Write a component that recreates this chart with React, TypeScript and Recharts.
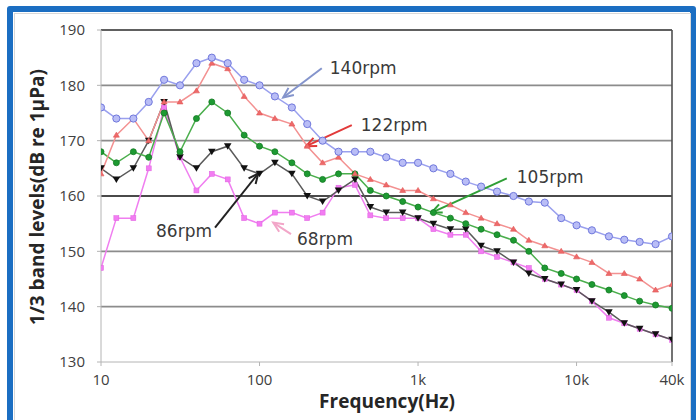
import React from "react";
import {
  LineChart,
  Line,
  XAxis,
  YAxis,
  CartesianGrid,
  ReferenceLine,
} from "recharts";

// 1/3 octave band centre frequencies (Hz)
const freqs = [
  10, 12.5, 16, 20, 25, 31.5, 40, 50, 63, 80, 100, 125, 160, 200, 250, 315,
  400, 500, 630, 800, 1000, 1250, 1600, 2000, 2500, 3150, 4000, 5000, 6300,
  8000, 10000, 12500, 16000, 20000, 25000, 31500, 40000,
];

// band levels, dB re 1uPa
const rpm140 = [
  176, 174, 174, 177, 181, 180, 184, 185, 184, 181, 180, 178, 176, 173, 170,
  168, 168, 168, 167, 166, 166, 165, 164, 162.6, 161.7, 160.8, 160, 159, 158.8,
  156, 154.7, 153.8, 152.7, 152.1, 151.7, 151.3, 152.7,
];
const rpm122 = [
  164, 171, 174, 170, 177, 177, 179, 184, 183, 178, 175, 174, 173, 169, 166,
  167, 164, 163, 162, 161, 161, 159.5, 158.4, 157, 156, 155, 154, 152, 151,
  150, 149, 148, 146, 146, 145, 143, 144,
];
const rpm105 = [
  168, 166, 168, 167, 175, 168, 174, 177, 175, 171, 169, 168, 166, 164, 163,
  164, 164, 161, 160, 159, 158, 157, 156, 155, 154, 153, 152, 150, 147, 146,
  145, 144, 143, 142, 141, 140.3, 139.7,
];
const rpm86 = [
  165, 163, 165, 170, 177, 167, 165, 168, 169, 165, 164, 166, 164, 160, 159,
  161, 163, 158, 157, 157, 156, 155, 154, 154, 151, 150, 148, 146, 145, 144,
  143, 141, 139, 137, 136, 135, 134,
];
const rpm68 = [
  147, 156, 156, 165, 176, 167, 161, 164, 163, 156, 155, 157, 157, 156, 157,
  161.5, 162, 156.5, 156, 156, 156, 154, 153, 153, 150, 149, 148, 147, 145,
  144, 143, 141, 138, 137, 136, 135, 134,
];

const xTicks = [10, 100, 1000, 10000, 40000];
const yTicks = [130, 140, 150, 160, 170, 180, 190];

// callouts: [freq, level] of the tail and of the arrow tip
const callouts = [
  { label: "140rpm", from: [247, 183.1], to: [141, 177.8] },
  { label: "122rpm", from: [382, 172.8], to: [197, 169.0] },
  { label: "105rpm", from: [3630, 163.2], to: [1220, 157.0] },
  { label: "86rpm", from: [52.4, 154.3], to: [98.3, 164.1] },
  { label: "68rpm", from: [158, 153.1], to: [122, 155.2] },
];

const rows = freqs.map((f, i) => ({
  freq: f,
  rpm140: rpm140[i],
  rpm122: rpm122[i],
  rpm105: rpm105[i],
  rpm86: rpm86[i],
  rpm68: rpm68[i],
}));

type Marker = "circle" | "tri" | "dot" | "invtri" | "square";

const seriesStyle: {
  key: string;
  stroke: string;
  marker: Marker;
  fill: string;
  edge: string;
}[] = [
  { key: "rpm68", stroke: "#f07ef0", marker: "square", fill: "#f27cf2", edge: "#e060e0" },
  { key: "rpm86", stroke: "#5a5a5a", marker: "invtri", fill: "#111", edge: "#111" },
  { key: "rpm105", stroke: "#4aae4c", marker: "dot", fill: "#1d9a32", edge: "#137a22" },
  { key: "rpm122", stroke: "#f39191", marker: "tri", fill: "#ee6a6a", edge: "#e05555" },
  { key: "rpm140", stroke: "#9aa0ee", marker: "circle", fill: "#b9bdf6", edge: "#7078dc" },
];

const calloutStyle: Record<
  string,
  { color: string; dx: number; dy: number; anchor: "start" | "end" }
> = {
  "140rpm": { color: "#8494cc", dx: 8, dy: 0, anchor: "start" },
  "122rpm": { color: "#e23a3a", dx: 9, dy: 0, anchor: "start" },
  "105rpm": { color: "#2f9f36", dx: 10, dy: -1, anchor: "start" },
  "86rpm": { color: "#222", dx: -3, dy: 3, anchor: "end" },
  "68rpm": { color: "#f2a6c8", dx: 6, dy: 5, anchor: "start" },
};

const fmtFreq = (v: number) => (v >= 1000 ? `${v / 1000}k` : `${v}`);

function makeDot(marker: Marker, fill: string, edge: string, name: string) {
  return (p: any) => {
    const { cx, cy, index } = p;
    const k = `${name}-${index}`;
    if (cx == null || cy == null) return <g key={k} />;
    switch (marker) {
      case "circle":
        return <circle key={k} cx={cx} cy={cy} r={3.6} fill={fill} stroke={edge} strokeWidth={1} />;
      case "dot":
        return <circle key={k} cx={cx} cy={cy} r={3} fill={fill} stroke={edge} strokeWidth={0.8} />;
      case "tri":
        return (
          <path key={k} d={`M${cx},${cy - 3} L${cx + 3},${cy + 2} L${cx - 3},${cy + 2} Z`} fill={fill} stroke={edge} strokeWidth={0.6} />
        );
      case "invtri":
        return (
          <path key={k} d={`M${cx - 3.8},${cy - 3} L${cx + 3.8},${cy - 3} L${cx},${cy + 3.5} Z`} fill={fill} />
        );
      default:
        return <rect key={k} x={cx - 2.5} y={cy - 2.5} width={5} height={5} fill={fill} stroke={edge} strokeWidth={0.5} />;
    }
  };
}

function Arrow(props: any) {
  const { x1, y1, x2, y2, label } = props;
  const st = calloutStyle[label];
  const ang = Math.atan2(y2 - y1, x2 - x1);
  const len = 11;
  const spread = 0.42;
  const ax = x2 - len * Math.cos(ang - spread);
  const ay = y2 - len * Math.sin(ang - spread);
  const bx = x2 - len * Math.cos(ang + spread);
  const by = y2 - len * Math.sin(ang + spread);
  return (
    <g>
      <line x1={x1} y1={y1} x2={x2} y2={y2} stroke={st.color} strokeWidth={2} />
      <polyline
        points={`${ax},${ay} ${x2},${y2} ${bx},${by}`}
        fill="none"
        stroke={st.color}
        strokeWidth={2}
      />
      <text
        x={x1 + st.dx}
        y={y1 + st.dy}
        textAnchor={st.anchor}
        dominantBaseline="central"
        fontFamily="DejaVu Sans"
        fontSize={17}
        fill="#3a3a3a"
      >
        {label}
      </text>
    </g>
  );
}

const tickFont = { fontSize: 15, fill: "#404040", fontFamily: "Open Sans" };

export default function App() {
  return (
    <div
      style={{
        position: "absolute",
        left: 0,
        top: 0,
        width: 696,
        height: 420,
        background: "#fff",
        overflow: "hidden",
      }}
    >
      <div
        style={{
          position: "absolute",
          left: 7,
          top: 6,
          width: 677,
          height: 440,
          border: "6px solid #1b6ec2",
          borderRadius: 3,
        }}
      />
      <div
        style={{
          position: "absolute",
          left: 14,
          top: 13,
          width: 675,
          height: 440,
          border: "1px solid #d8d8d8",
        }}
      />
      <LineChart
        width={696}
        height={420}
        data={rows}
        margin={{ top: 30, right: 24, bottom: 20, left: 51 }}
        style={{ position: "absolute", left: 0, top: 0 }}
      >
        <CartesianGrid
          vertical={false}
          horizontalValues={[140, 150, 170, 180]}
          stroke="#8c8c8c"
          strokeWidth={1.6}
        />
        <ReferenceLine y={160} stroke="#4a4a4a" strokeWidth={2} />
        <ReferenceLine y={190} stroke="#606060" strokeWidth={2} />
        <ReferenceLine x={40000} stroke="#505050" strokeWidth={1.6} />
        <XAxis
          dataKey="freq"
          type="number"
          scale="log"
          domain={[10, 40000]}
          allowDataOverflow
          ticks={xTicks}
          tickFormatter={fmtFreq}
          tick={tickFont}
          tickSize={4}
          tickMargin={8}
          axisLine={{ stroke: "#b4b4b4" }}
          tickLine={{ stroke: "#b4b4b4" }}
          height={38}
        />
        <YAxis
          type="number"
          domain={[130, 190]}
          ticks={yTicks}
          tick={tickFont}
          tickSize={4}
          tickMargin={12}
          width={50}
          axisLine={{ stroke: "#b4b4b4" }}
          tickLine={{ stroke: "#b4b4b4" }}
        />
        {seriesStyle.map((s) => (
          <Line
            key={s.key}
            dataKey={s.key}
            stroke={s.stroke}
            strokeWidth={1.5}
            dot={makeDot(s.marker, s.fill, s.edge, s.key)}
            activeDot={false}
            isAnimationActive={false}
          />
        ))}
        {callouts.map((c) => (
          <ReferenceLine
            key={c.label}
            segment={[
              { x: c.from[0], y: c.from[1] },
              { x: c.to[0], y: c.to[1] },
            ]}
            ifOverflow="visible"
            shape={(p: any) => <Arrow {...p} label={c.label} />}
          />
        ))}
      </LineChart>
      <div
        style={{
          position: "absolute",
          left: 37,
          top: 197,
          transform: "translate(-50%, -50%) rotate(-90deg)",
          whiteSpace: "nowrap",
          font: 'bold 19px "Open Sans"',
          color: "#262626",
        }}
      >
        1/3 band levels(dB re 1μPa)
      </div>
      <div
        style={{
          position: "absolute",
          left: 387,
          top: 401,
          transform: "translate(-50%, -50%)",
          whiteSpace: "nowrap",
          font: 'bold 19px "Open Sans"',
          color: "#262626",
        }}
      >
        Frequency(Hz)
      </div>
    </div>
  );
}
